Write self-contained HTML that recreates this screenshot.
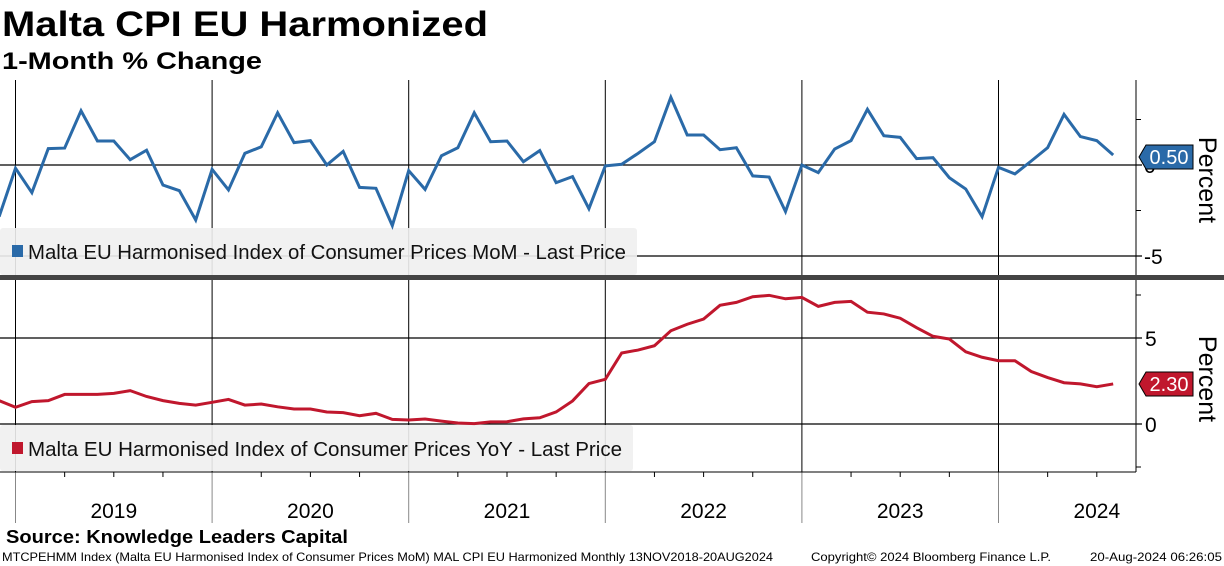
<!DOCTYPE html>
<html><head><meta charset="utf-8"><style>
body{margin:0;background:#fff;}
svg{display:block;font-family:"Liberation Sans",sans-serif;}
</style></head><body>
<svg id="c" width="1224" height="566" viewBox="0 0 1224 566">
<text x="2" y="36" font-size="35" font-weight="bold" fill="#000" textLength="486" lengthAdjust="spacingAndGlyphs">Malta CPI EU Harmonized</text>
<text x="2" y="69" font-size="24" font-weight="bold" fill="#000" textLength="260" lengthAdjust="spacingAndGlyphs">1-Month % Change</text>
<g id="grid"></g>
<rect x="0" y="228" width="637" height="47" rx="3" fill="#f0f0f0" opacity="0.9"/>
<rect x="0" y="425" width="633" height="46" rx="3" fill="#f0f0f0" opacity="0.9"/>
<g id="marks"></g>
<rect x="0" y="275" width="1224" height="5" fill="#444"/>
<rect x="12" y="245" width="11" height="12" fill="#2a6aa8"/>
<text x="28" y="259" font-size="20" fill="#111" textLength="598" lengthAdjust="spacingAndGlyphs">Malta EU Harmonised Index of Consumer Prices MoM - Last Price</text>
<rect x="12" y="442" width="11" height="12" fill="#c0172d"/>
<text x="28" y="456" font-size="20" fill="#111" textLength="594" lengthAdjust="spacingAndGlyphs">Malta EU Harmonised Index of Consumer Prices YoY - Last Price</text>
<text x="1199" y="180" font-size="25" fill="#000" transform="rotate(90 1199 180)" text-anchor="middle">Percent</text>
<text x="1199" y="379" font-size="25" fill="#000" transform="rotate(90 1199 379)" text-anchor="middle">Percent</text>
<text x="6" y="543" font-size="18" font-weight="bold" fill="#000" textLength="342" lengthAdjust="spacingAndGlyphs">Source: Knowledge Leaders Capital</text>
<text x="2" y="561" font-size="12" fill="#000" textLength="771" lengthAdjust="spacingAndGlyphs">MTCPEHMM Index (Malta EU Harmonised Index of Consumer Prices MoM) MAL CPI EU Harmonized  Monthly 13NOV2018-20AUG2024</text>
<text x="811" y="561" font-size="12" fill="#000" textLength="240" lengthAdjust="spacingAndGlyphs">Copyright© 2024 Bloomberg Finance L.P.</text>
<text x="1090" y="561" font-size="12" fill="#000" textLength="132" lengthAdjust="spacingAndGlyphs">20-Aug-2024 06:26:05</text>
</svg>
<script>
const years=[2019,2020,2021,2022,2023,2024];
const momTicks=[0,-5];
const yoyTicks=[5,0];
const momValues=[-2.84,-0.18,-1.52,0.9,0.93,2.98,1.32,1.32,0.29,0.81,-1.1,-1.41,-3.02,-0.24,-1.37,0.64,1.0,2.87,1.23,1.34,0,0.75,-1.23,-1.28,-3.33,-0.31,-1.34,0.51,0.95,2.87,1.28,1.32,0.18,0.79,-0.97,-0.64,-2.4,-0.05,0.04,0.64,1.28,3.72,1.65,1.65,0.84,0.95,-0.6,-0.66,-2.56,0,-0.42,0.88,1.34,3.06,1.61,1.52,0.35,0.4,-0.7,-1.32,-2.84,-0.13,-0.49,0.22,0.95,2.78,1.56,1.34,0.55];
const yoyValues=[1.36,0.97,1.3,1.36,1.72,1.72,1.72,1.78,1.94,1.6,1.36,1.2,1.1,1.26,1.43,1.1,1.16,1.0,0.87,0.87,0.7,0.66,0.48,0.62,0.27,0.23,0.29,0.17,0.06,0.02,0.12,0.13,0.3,0.36,0.7,1.34,2.35,2.6,4.13,4.3,4.55,5.42,5.8,6.1,6.9,7.07,7.4,7.48,7.28,7.36,6.84,7.07,7.13,6.5,6.4,6.15,5.6,5.1,4.94,4.2,3.88,3.68,3.68,3.05,2.7,2.4,2.33,2.17,2.33];
const momLast="0.50", yoyLast="2.30";
const NS="http://www.w3.org/2000/svg";
const x0=15.5, pxYear=196.6;
function xm(i){return x0+(i-1)*pxYear/12;}
function yMom(v){return 165-v*18.2;}
function yYoy(v){return 424-v*17.2;}
function mk(t,a,p){const e=document.createElementNS(NS,t);for(const k in a)e.setAttribute(k,a[k]);p.appendChild(e);return e;}
const g=document.getElementById('grid'), m=document.getElementById('marks');
const axX=1136;
years.forEach((y,k)=>{
  const x=x0+k*pxYear;
  let l=mk('line',{x1:x,x2:x,y1:80,y2:472,stroke:'#000','stroke-width':1},g);
  
  
  let l2=mk('line',{x1:x,x2:x,y1:472,y2:523,stroke:'#888','stroke-width':1},g);
  
  
  let t=mk('text',{x:x+pxYear/2,y:518,'font-size':21,'text-anchor':'middle',fill:'#000'},g);
  t.textContent=y;
  
  
  for(let q=1;q<4;q++){const xx=x+q*pxYear/4;if(xx<axX){let tk=mk('line',{x1:xx,x2:xx,y1:472,y2:477,stroke:'#000'},g);
  
  }}
});
mk('line',{x1:0,x2:axX,y1:472,y2:472,stroke:'#000'},g);
let ax=mk('line',{x1:axX,x2:axX,y1:80,y2:472,stroke:'#000'},g);


[2.5,-2.5].forEach(v=>mk('line',{x1:axX,x2:axX+5,y1:yMom(v),y2:yMom(v),stroke:'#000'},g));
[7.5,-2.5].forEach(v=>mk('line',{x1:axX,x2:axX+5,y1:yYoy(v),y2:yYoy(v),stroke:'#000'},g));
momTicks.forEach(v=>{
  let l=mk('line',{x1:0,x2:axX+6,y1:yMom(v),y2:yMom(v),stroke:'#000','stroke-width':1.3},g);
  
  
  let t=mk('text',{x:axX+8,y:yMom(v)+8,'font-size':21,fill:'#000'},g);
  t.textContent=v<0?'-'+Math.abs(v):v;
  
  
});
yoyTicks.forEach(v=>{
  let l=mk('line',{x1:0,x2:axX+6,y1:yYoy(v),y2:yYoy(v),stroke:'#000','stroke-width':1.3},g);
  
  
  let t=mk('text',{x:axX+9,y:yYoy(v)+8,'font-size':21,fill:'#000'},g);
  t.textContent=v;
  
  
});
let p1=mk('polyline',{points:momValues.map((v,i)=>xm(i)+','+yMom(v)).join(' '),fill:'none',stroke:'#2a6aa8','stroke-width':3},m);


let p2=mk('polyline',{points:yoyValues.map((v,i)=>xm(i)+','+yYoy(v)).join(' '),fill:'none',stroke:'#c0172d','stroke-width':3},m);


function tag(y,txt,col,name){
  const gg=mk('g',{},m);
  
  
  mk('path',{d:`M${axX+3},${y} L${axX+10},${y-12} H${axX+57} V${y+12} H${axX+10} Z`,fill:col,stroke:'#000','stroke-width':1},gg);
  const t=mk('text',{x:axX+33,y:y+7,'font-size':20,fill:'#fff','text-anchor':'middle'},gg);
  t.textContent=txt;
}
tag(157,momLast,'#2a6aa8','mom-last-value-tag');
tag(384,yoyLast,'#c0172d','yoy-last-value-tag');
</script>
</body></html>
